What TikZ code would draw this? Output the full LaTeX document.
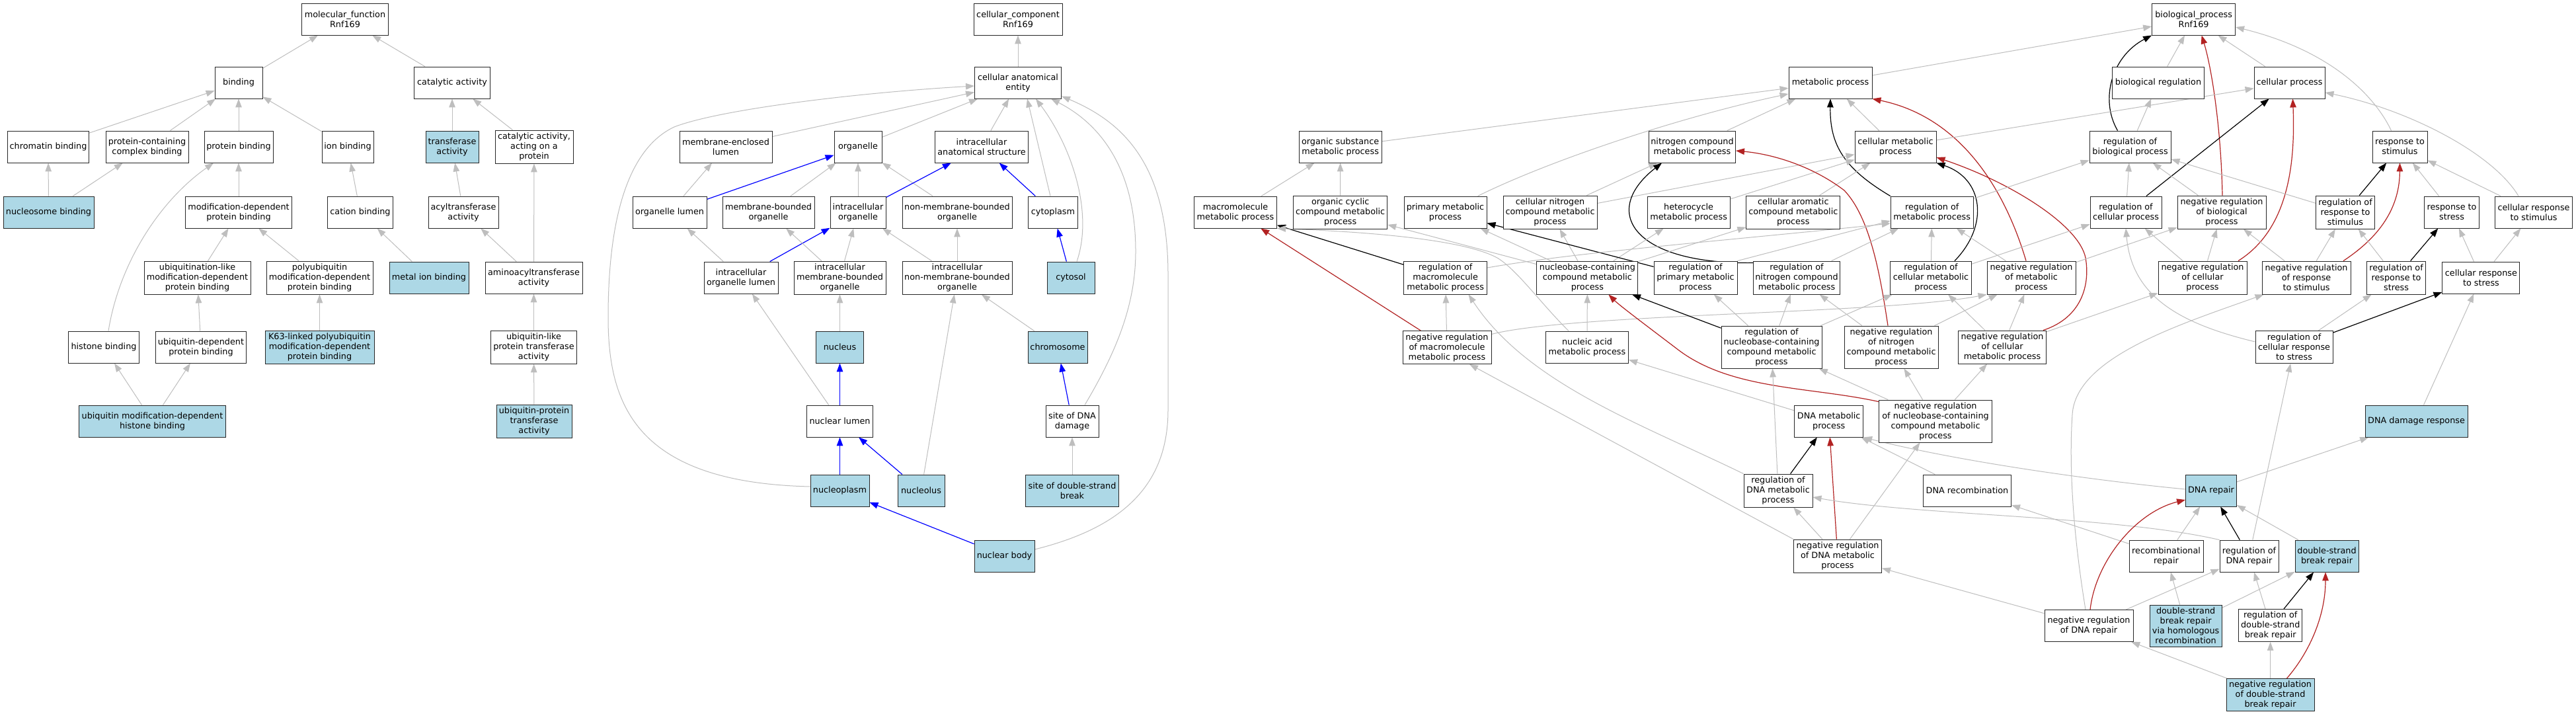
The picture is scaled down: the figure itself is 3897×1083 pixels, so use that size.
\documentclass[tikz,border=0pt]{standalone}
\usepackage{fontspec}
\setmainfont{DejaVu Sans}
\usetikzlibrary{arrows.meta,calc}
\definecolor{eg}{HTML}{BEBEBE}
\definecolor{lb}{HTML}{ADD8E6}
\definecolor{fb}{HTML}{B22222}
\definecolor{bl}{HTML}{0000FF}
\newcommand{\nf}{\fontsize{12.8}{15}\selectfont}
\pgfdeclarelayer{bg}
\pgfsetlayers{bg,main}
\newcommand{\isaE}[2]{\draw[isa] (#1) -- (#2);}
\newcommand{\regE}[2]{\draw[regl] (#1) -- (#2);}
\newcommand{\negE}[2]{\draw[nreg] (#1) -- (#2);}
\newcommand{\poE}[2]{\draw[partof] (#1) -- (#2);}
\tikzset{
  box/.style={draw=black!85, line width=0.9pt, fill=white, rectangle, inner sep=0pt, align=center, font=\nf},
  hl/.style={box, fill=lb},
  sz/.style 2 args={minimum width=#1pt, minimum height=#2pt},
  arw/.style={-{Triangle[length=13pt,width=9.5pt]}},
  isa/.style={draw=eg, line width=1pt, arw},
  partof/.style={draw=bl, line width=1.2pt, arw},
  regl/.style={draw=black, line width=1.2pt, arw},
  nreg/.style={draw=fb, line width=1.2pt, arw},
}
\begin{document}
\begin{tikzpicture}[x=1pt,y=1pt]
\useasboundingbox (0,0) rectangle (3897,-1083);
% ---------------- molecular function ----------------
\node[box,sz={131}{48}] (mf) at (522,-29) {molecular\_function\\Rnf169};
\node[box,sz={72}{48}] (binding) at (361,-125) {binding};
\node[box,sz={115}{48}] (catal) at (684,-125) {catalytic activity};
\node[box,sz={123}{48}] (chrom) at (73,-222) {chromatin binding};
\node[box,sz={125}{48}] (pccb) at (222.5,-222) {protein-containing\\complex binding};
\node[box,sz={104}{48}] (protb) at (361,-222) {protein binding};
\node[box,sz={78}{48}] (ionb) at (526,-222) {ion binding};
\node[hl,sz={80}{48}] (transf) at (684,-222) {transferase\\activity};
\node[box,sz={118}{50}] (catprot) at (808,-222) {catalytic activity,\\acting on a\\protein};
\node[hl,sz={137}{48}] (nucleosome) at (73.5,-321) {nucleosome binding};
\node[box,sz={161}{48}] (moddep) at (361,-321) {modification-dependent\\protein binding};
\node[box,sz={99}{48}] (cation) at (545,-321) {cation binding};
\node[box,sz={106}{48}] (acyl) at (701,-321) {acyltransferase\\activity};
\node[box,sz={161}{50}] (ublike) at (298.5,-420) {ubiquitination-like\\modification-dependent\\protein binding};
\node[box,sz={161}{50}] (polyub) at (483.5,-420) {polyubiquitin\\modification-dependent\\protein binding};
\node[hl,sz={120}{48}] (metal) at (649,-420) {metal ion binding};
\node[box,sz={147}{48}] (aminoacyl) at (807.5,-420) {aminoacyltransferase\\activity};
\node[box,sz={107}{48}] (histone) at (157,-525) {histone binding};
\node[box,sz={137}{48}] (ubdep) at (304,-525) {ubiquitin-dependent\\protein binding};
\node[hl,sz={165}{50}] (k63) at (483.5,-525) {K63-linked polyubiquitin\\modification-dependent\\protein binding};
\node[box,sz={130}{50}] (ublptr) at (807.5,-525) {ubiquitin-like\\protein transferase\\activity};
\node[hl,sz={222}{48}] (ubmodhist) at (230.5,-637) {ubiquitin modification-dependent\\histone binding};
\node[hl,sz={114}{50}] (ubprot) at (808,-637) {ubiquitin-protein\\transferase\\activity};
% ---------------- cellular component ----------------
\node[box,sz={134}{48}] (ccroot) at (1540,-29) {cellular\_component\\Rnf169};
\node[box,sz={131}{48}] (cae) at (1540,-125) {cellular anatomical\\entity};
\node[box,sz={140}{48}] (melumen) at (1098,-222) {membrane-enclosed\\lumen};
\node[box,sz={72}{48}] (organelle) at (1298,-222) {organelle};
\node[box,sz={141}{48}] (ias) at (1485,-222) {intracellular\\anatomical structure};
\node[box,sz={112}{48}] (orglumen) at (1013,-321) {organelle lumen};
\node[box,sz={139}{48}] (mbo) at (1162.5,-321) {membrane-bounded\\organelle};
\node[box,sz={84}{48}] (io) at (1298,-321) {intracellular\\organelle};
\node[box,sz={166}{48}] (nmbo) at (1448,-321) {non-membrane-bounded\\organelle};
\node[box,sz={75}{48}] (cytoplasm) at (1593,-321) {cytoplasm};
\node[box,sz={112}{48}] (iol) at (1121,-420) {intracellular\\organelle lumen};
\node[box,sz={139}{50}] (imbo) at (1270.5,-420) {intracellular\\membrane-bounded\\organelle};
\node[box,sz={166}{50}] (inmbo) at (1448,-420) {intracellular\\non-membrane-bounded\\organelle};
\node[hl,sz={72}{48}] (cytosol) at (1620,-420) {cytosol};
\node[hl,sz={72}{48}] (nucleus) at (1270.5,-525) {nucleus};
\node[hl,sz={90}{48}] (chromosome) at (1600,-525) {chromosome};
\node[box,sz={100}{48}] (nlumen) at (1270.5,-637) {nuclear lumen};
\node[box,sz={80}{48}] (sdd) at (1622,-637) {site of DNA\\damage};
\node[hl,sz={89}{48}] (nucleoplasm) at (1270.5,-742) {nucleoplasm};
\node[hl,sz={71}{48}] (nucleolus) at (1393.5,-742) {nucleolus};
\node[hl,sz={141}{48}] (sdsb) at (1622,-742) {site of double-strand\\break};
\node[hl,sz={91}{48}] (nbody) at (1519.5,-841) {nuclear body};
% ---------------- biological process ----------------
\node[box,sz={126}{48}] (bproot) at (3318.6,-29) {biological\_process\\Rnf169};
\node[box,sz={126}{48}] (metab) at (2769,-125) {metabolic process};
\node[box,sz={139}{48}] (bioreg) at (3265,-125) {biological regulation};
\node[box,sz={107}{48}] (cellproc) at (3463.5,-125) {cellular process};
\node[box,sz={125}{48}] (orgsub) at (2027.6,-222) {organic substance\\metabolic process};
\node[box,sz={131}{48}] (nitro) at (2560,-222) {nitrogen compound\\metabolic process};
\node[box,sz={123}{48}] (cellmet) at (2867.5,-222) {cellular metabolic\\process};
\node[box,sz={123}{48}] (regbio) at (3222.5,-222) {regulation of\\biological process};
\node[box,sz={83}{48}] (respstim) at (3630.5,-222) {response to\\stimulus};
\node[box,sz={125}{48}] (macromet) at (1869,-321) {macromolecule\\metabolic process};
\node[box,sz={142}{50}] (orgcyc) at (2027.7,-321) {organic cyclic\\compound metabolic\\process};
\node[box,sz={125}{48}] (primary) at (2186.5,-321) {primary metabolic\\process};
\node[box,sz={142}{50}] (cellnitro) at (2345,-321) {cellular nitrogen\\compound metabolic\\process};
\node[box,sz={125}{48}] (hetero) at (2554.6,-321) {heterocycle\\metabolic process};
\node[box,sz={142}{50}] (cellarom) at (2712.8,-321) {cellular aromatic\\compound metabolic\\process};
\node[box,sz={125}{48}] (regmet) at (2922.7,-321) {regulation of\\metabolic process};
\node[box,sz={108}{48}] (regcell) at (3216,-321) {regulation of\\cellular process};
\node[box,sz={134}{50}] (nrbio) at (3361,-321) {negative regulation\\of biological\\process};
\node[box,sz={89}{50}] (regrespstim) at (3548,-321) {regulation of\\response to\\stimulus};
\node[box,sz={83}{48}] (respstress) at (3709,-321) {response to\\stress};
\node[box,sz={117}{48}] (crstim) at (3833,-321) {cellular response\\to stimulus};
\node[box,sz={126}{50}] (regmacro) at (2186.6,-420) {regulation of\\macromolecule\\metabolic process};
\node[box,sz={153}{50}] (nucleobase) at (2401.4,-420) {nucleobase-containing\\compound metabolic\\process};
\node[box,sz={126}{50}] (regprim) at (2565,-420) {regulation of\\primary metabolic\\process};
\node[box,sz={131}{50}] (regnitro) at (2718,-420) {regulation of\\nitrogen compound\\metabolic process};
\node[box,sz={123}{50}] (regcellmet) at (2921,-420) {regulation of\\cellular metabolic\\process};
\node[box,sz={134}{50}] (nrmet) at (3073,-420) {negative regulation\\of metabolic\\process};
\node[box,sz={134}{50}] (nrcell) at (3332,-420) {negative regulation\\of cellular\\process};
\node[box,sz={134}{50}] (nrrespstim) at (3489,-420) {negative regulation\\of response\\to stimulus};
\node[box,sz={89}{50}] (regrespstress) at (3625,-420) {regulation of\\response to\\stress};
\node[box,sz={117}{48}] (crstress) at (3753.4,-420) {cellular response\\to stress};
\node[box,sz={134}{50}] (nrmacro) at (2189,-525.5) {negative regulation\\of macromolecule\\metabolic process};
\node[box,sz={125}{48}] (nucacid) at (2401,-525) {nucleic acid\\metabolic process};
\node[box,sz={152}{64}] (regnucleo) at (2680,-525) {regulation of\\nucleobase-containing\\compound metabolic\\process};
\node[box,sz={142}{64}] (nrnitro) at (2861,-525) {negative regulation\\of nitrogen\\compound metabolic\\process};
\node[box,sz={133}{50}] (nrcellmet) at (3029,-525) {negative regulation\\of cellular\\metabolic process};
\node[box,sz={117}{49}] (regcrstress) at (3470.5,-525) {regulation of\\cellular response\\to stress};
\node[box,sz={104}{48}] (dnamet) at (2766.7,-637) {DNA metabolic\\process};
\node[box,sz={171}{64}] (nrnucleo) at (2928,-637) {negative regulation\\of nucleobase-containing\\compound metabolic\\process};
\node[hl,sz={155}{48}] (ddr) at (3655.5,-637) {DNA damage response};
\node[box,sz={104}{50}] (regdnamet) at (2690,-742) {regulation of\\DNA metabolic\\process};
\node[box,sz={133}{48}] (dnarecomb) at (2976,-742) {DNA recombination};
\node[hl,sz={77}{48}] (dnarepair) at (3345,-742) {DNA repair};
\node[box,sz={133}{50}] (nrdnamet) at (2780,-841) {negative regulation\\of DNA metabolic\\process};
\node[box,sz={112}{48}] (recombrep) at (3277,-841) {recombinational\\repair};
\node[box,sz={89}{48}] (regdnarep) at (3402.5,-841) {regulation of\\DNA repair};
\node[hl,sz={96}{48}] (dsbr) at (3520,-841) {double-strand\\break repair};
\node[box,sz={134}{48}] (nrdnarep) at (3160,-946.5) {negative regulation\\of DNA repair};
\node[hl,sz={109}{63}] (hr) at (3306.6,-946.5) {double-strand\\break repair\\via homologous\\recombination};
\node[box,sz={96}{49}] (regdsb) at (3434.7,-946) {regulation of\\double-strand\\break repair};
\node[hl,sz={133}{49}] (nrdsb) at (3434.5,-1051) {negative regulation\\of double-strand\\break repair};
% ---------------- edges ----------------
\begin{pgfonlayer}{bg}
\fill[white] (0,0) rectangle (3897,-1083);
% MF
\isaE{binding}{mf}
\isaE{catal}{mf}
\isaE{chrom}{binding}
\isaE{pccb}{binding}
\isaE{protb}{binding}
\isaE{ionb}{binding}
\isaE{transf}{catal}
\isaE{catprot}{catal}
\isaE{nucleosome}{chrom}
\isaE{nucleosome}{pccb}
\isaE{moddep}{protb}
\draw[isa] ($(histone.north)+(7,0)$) .. controls (180,-400) and (240,-305) .. ($(protb.south)+(-38,0)$);
\isaE{cation}{ionb}
\isaE{acyl}{transf}
\isaE{ublike}{moddep}
\isaE{polyub}{moddep}
\isaE{metal}{cation}
\isaE{aminoacyl}{acyl}
\isaE{aminoacyl}{catprot}
\isaE{ubdep}{ublike}
\isaE{k63}{polyub}
\isaE{ublptr}{aminoacyl}
\isaE{ubmodhist}{histone}
\isaE{ubmodhist}{ubdep}
\isaE{ubprot}{ublptr}
% CC
\isaE{cae}{ccroot}
\isaE{melumen}{cae}
\isaE{organelle}{cae}
\isaE{ias}{cae}
\draw[isa] ($(cytoplasm.north)+(-4,0)$) -- ($(cae.south)+(14,0)$);
\draw[isa] ($(cytosol.north)+(9,0)$) .. controls (1655,-320) and (1620,-220) .. ($(cae.south)+(27,0)$);
\draw[isa] ($(sdd.north)+(19,0)$) .. controls (1690,-530) and (1718,-460) .. (1718,-380) .. controls (1718,-250) and (1660,-185) .. ($(cae.south)+(50,0)$);
\draw[isa] ($(nbody.east)+(0,10)$) .. controls (1690,-800) and (1767,-740) .. (1767,-620) -- (1767,-420) .. controls (1768,-250) and (1700,-185) .. ($(cae.south east)+(0,4)$);
\draw[isa] ($(nucleoplasm.west)+(0,6)$) .. controls (960,-730) and (920,-610) .. (920,-480) .. controls (920,-330) and (950,-225) .. (1020,-192) .. controls (1090,-165) and (1300,-140) .. ($(cae.west)+(0,-5)$);
\poE{orglumen}{organelle}
\isaE{orglumen}{melumen}
\isaE{mbo}{organelle}
\isaE{io}{organelle}
\isaE{nmbo}{organelle}
\poE{io}{ias}
\poE{cytoplasm}{ias}
\isaE{iol}{orglumen}
\poE{iol}{io}
\isaE{imbo}{mbo}
\isaE{imbo}{io}
\isaE{inmbo}{io}
\isaE{inmbo}{nmbo}
\poE{cytosol}{cytoplasm}
\isaE{nucleus}{imbo}
\isaE{chromosome}{inmbo}
\poE{nlumen}{nucleus}
\isaE{nlumen}{iol}
\poE{sdd}{chromosome}
\poE{nucleoplasm}{nlumen}
\poE{nucleolus}{nlumen}
\isaE{nucleolus}{inmbo}
\isaE{sdsb}{sdd}
\poE{nbody}{nucleoplasm}
% BP
\isaE{metab}{bproot}
\isaE{bioreg}{bproot}
\isaE{cellproc}{bproot}
\draw[isa] ($(respstim.north)+(-13,0)$) .. controls (3590,-140) and (3520,-75) .. ($(bproot.east)+(0,-12)$);
\draw[regl] ($(regbio.north)+(-19,0)$) .. controls (3176,-150) and (3195,-85) .. (bproot.south west);
\draw[nreg] ($(nrbio.north)+(1,0)$) .. controls (3360,-190) and (3345,-100) .. ($(bproot.south)+(12,0)$);
\isaE{orgsub}{metab}
\isaE{nitro}{metab}
\isaE{cellmet}{metab}
\draw[isa] ($(primary.north)+(49,0)$) .. controls (2350,-240) and (2550,-175) .. ($(metab.west)+(0,-17)$);
\draw[regl] (regmet.north west) .. controls (2790,-255) and (2768,-220) .. (metab.south);
\draw[nreg] ($(nrmet.north)+(-8,0)$) .. controls (3040,-310) and (2980,-180) .. (metab.south east);
\isaE{cellmet}{cellproc}
\regE{regcell}{cellproc}
\draw[nreg] ($(nrcell.north)+(54,0)$) .. controls (3465,-345) and (3472,-240) .. ($(cellproc.south)+(5,0)$);
\draw[isa] ($(crstim.north)+(-23,0)$) .. controls (3770,-230) and (3640,-165) .. ($(cellproc.east)+(0,-15)$);
\isaE{regbio}{bioreg}
\isaE{macromet}{orgsub}
\isaE{orgcyc}{orgsub}
\isaE{cellnitro}{nitro}
\isaE{cellnitro}{cellmet}
\isaE{hetero}{cellmet}
\isaE{cellarom}{cellmet}
\draw[regl] ($(regnitro.north west)+(0,-3)$) .. controls (2470,-400) and (2420,-320) .. ($(nitro.south west)+(20,0)$);
\draw[nreg] ($(nrnitro.north)+(-5,0)$) .. controls (2845,-420) and (2830,-330) .. (2790,-288) .. controls (2740,-250) and (2680,-233) .. ($(nitro.east)+(0,-6)$);
\draw[regl] ($(regcellmet.north)+(36,0)$) .. controls (3010,-340) and (3000,-270) .. (cellmet.south east);
\draw[nreg] ($(nrcellmet.north east)+(-5,0)$) .. controls (3150,-480) and (3162,-430) .. (3155,-390) .. controls (3145,-340) and (3040,-275) .. ($(cellmet.east)+(0,-16)$);
\isaE{regmet}{regbio}
\isaE{regcell}{regbio}
\isaE{nrbio}{regbio}
\isaE{regrespstim}{regbio}
\isaE{respstress}{respstim}
\isaE{crstim}{respstim}
\regE{regrespstim}{respstim}
\draw[nreg] ($(nrrespstim.north)+(56,0)$) .. controls (3605,-355) and (3630,-310) .. (respstim.south);
\regE{regmacro}{macromet}
\negE{nrmacro}{macromet}
\draw[isa] ($(nucacid.north west)+(35,0)$) .. controls (2330,-458) and (2295,-408) .. (2265,-390) .. controls (2210,-360) and (2050,-350) .. (macromet.south east);
\isaE{nucleobase}{primary}
\isaE{nucleobase}{cellnitro}
\isaE{nucleobase}{orgcyc}
\isaE{nucleobase}{hetero}
\isaE{nucleobase}{cellarom}
\regE{regprim}{primary}
\draw[isa] ($(regmacro.east)+(0,15)$) .. controls (2380,-382) and (2600,-365) .. ($(regmet.west)+(0,-17)$);
\draw[isa] (regprim.north east) -- ($(regmet.west)+(0,-13)$);
\isaE{regnitro}{regmet}
\isaE{regcellmet}{regmet}
\isaE{nrmet}{regmet}
\isaE{regcellmet}{regcell}
\isaE{nrmet}{nrbio}
\isaE{nrcell}{regcell}
\isaE{nrcell}{nrbio}
\isaE{nrrespstim}{regrespstim}
\isaE{nrrespstim}{nrbio}
\isaE{regrespstress}{regrespstim}
\regE{regrespstress}{respstress}
\isaE{crstress}{respstress}
\isaE{crstress}{crstim}
\isaE{nrmacro}{regmacro}
\draw[isa] ($(nrmacro.east)+(0,20)$) .. controls (2380,-474) and (2850,-475) .. (nrmet.south west);
\isaE{nucacid}{nucleobase}
\regE{regnucleo}{nucleobase}
\isaE{regnucleo}{regprim}
\isaE{regnucleo}{regnitro}
\isaE{regnucleo}{regcellmet}
\isaE{nrnitro}{regnitro}
\isaE{nrnitro}{nrmet}
\isaE{nrcellmet}{regcellmet}
\isaE{nrcellmet}{nrmet}
\isaE{nrcellmet}{nrcell}
\regE{regcrstress}{crstress}
\isaE{regcrstress}{regrespstress}
\draw[isa] ($(regcrstress.west)+(0,8)$) .. controls (3300,-490) and (3225,-450) .. (regcell.south);
\isaE{dnamet}{nucacid}
\draw[nreg] ($(nrnucleo.north west)+(0,-3)$) .. controls (2740,-585) and (2620,-590) .. (2540,-530) .. controls (2490,-492) and (2450,-462) .. ($(nucleobase.south)+(32,0)$);
\isaE{nrnucleo}{regnucleo}
\isaE{nrnucleo}{nrnitro}
\isaE{nrnucleo}{nrcellmet}
\isaE{ddr}{crstress}
\regE{regdnamet}{dnamet}
\isaE{regdnamet}{regnucleo}
\draw[isa] (regdnamet.north west) .. controls (2480,-640) and (2310,-580) .. ($(regmacro.south)+(35,0)$);
\isaE{dnarecomb}{dnamet}
\draw[isa] ($(dnarepair.west)+(0,2)$) .. controls (3150,-725) and (2950,-695) .. (dnamet.south east);
\isaE{dnarepair}{ddr}
\isaE{nrdnamet}{regdnamet}
\negE{nrdnamet}{dnamet}
\isaE{nrdnamet}{nrnucleo}
\draw[isa] (nrdnamet.north west) -- ($(nrmacro.south)+(34,0)$);
\isaE{recombrep}{dnarepair}
\isaE{recombrep}{dnarecomb}
\regE{regdnarep}{dnarepair}
\isaE{regdnarep}{regcrstress}
\draw[isa] (regdnarep.north west) .. controls (3200,-780) and (2900,-780) .. ($(regdnamet.east)+(0,-10)$);
\isaE{dsbr}{dnarepair}
\draw[nreg] ($(nrdnarep.north)+(2,0)$) .. controls (3170,-850) and (3230,-775) .. ($(dnarepair.west)+(0,-14)$);
\isaE{nrdnarep}{regdnarep}
\isaE{nrdnarep}{nrdnamet}
\draw[isa] ($(nrdnarep.north)+(-5,0)$) .. controls (3135,-800) and (3130,-700) .. (3135,-627) .. controls (3140,-540) and (3300,-490) .. ($(nrrespstim.south west)+(3,0)$);
\isaE{hr}{recombrep}
\isaE{hr}{dsbr}
\regE{regdsb}{dsbr}
\isaE{regdsb}{regdnarep}
\draw[nreg] ($(nrdsb.north)+(25,0)$) .. controls (3495,-985) and (3518,-930) .. ($(dsbr.south)+(-2,0)$);
\isaE{nrdsb}{regdsb}
\isaE{nrdsb}{nrdnarep}
\end{pgfonlayer}
\end{tikzpicture}
\end{document}
